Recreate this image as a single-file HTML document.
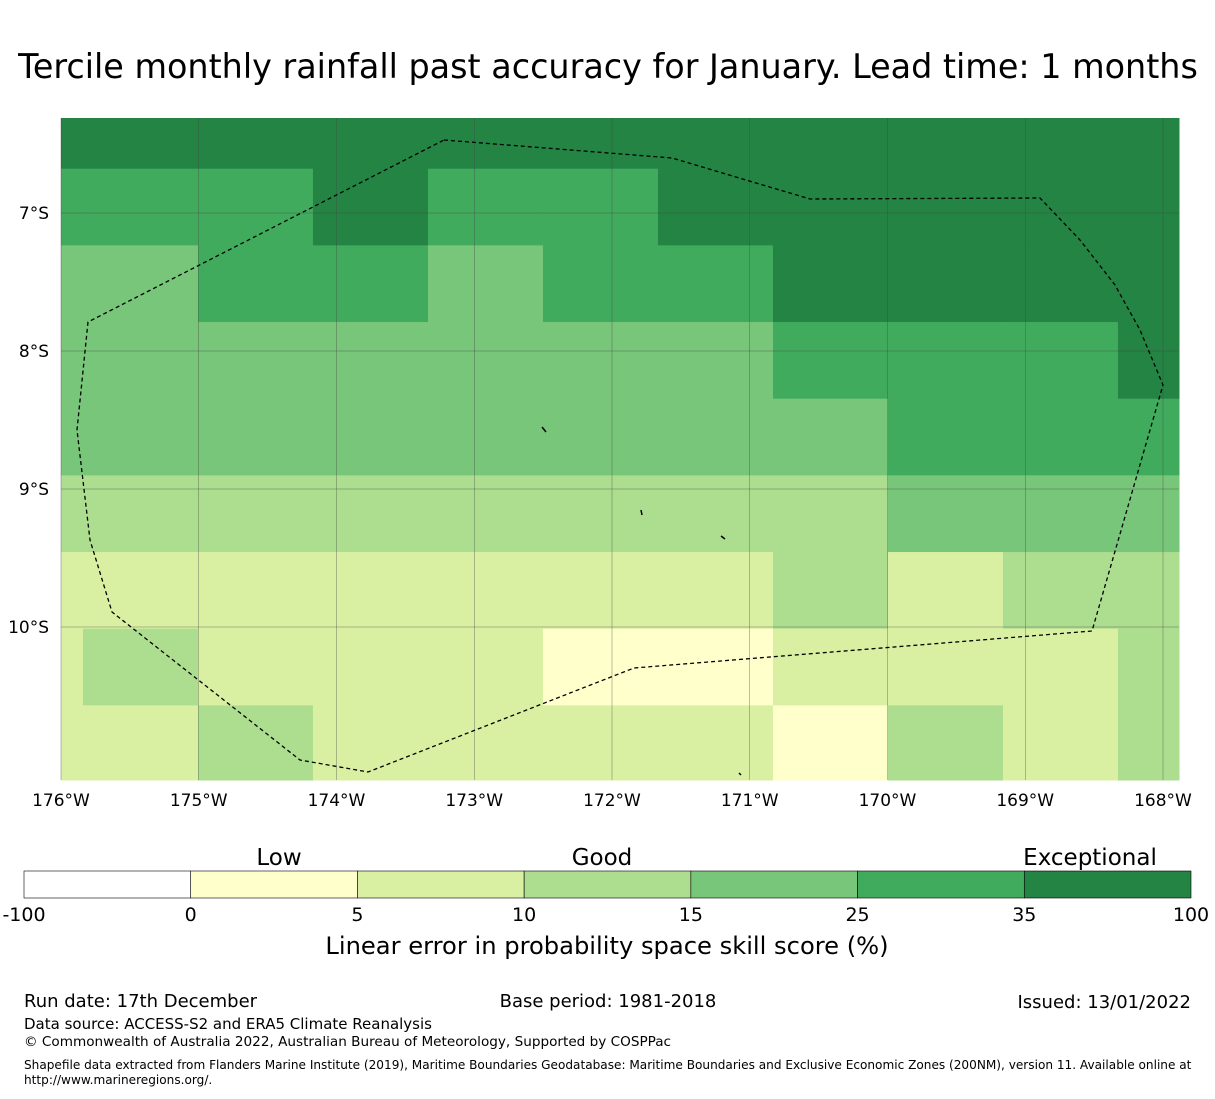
<!DOCTYPE html>
<html><head><meta charset="utf-8">
<style>
body{margin:0;background:#fff;font-family:"DejaVu Sans","Liberation Sans",sans-serif;}
svg text{font-family:"DejaVu Sans","Liberation Sans",sans-serif;}
</style></head>
<body>
<svg id="chart" width="1215" height="1095" xmlns="http://www.w3.org/2000/svg">
<text x="608" y="78" font-size="33.4" text-anchor="middle">Tercile monthly rainfall past accuracy for January. Lead time: 1 months</text>
<g id="cells"></g>
<g id="grid"></g>
<polygon fill="none" stroke="#000" stroke-width="1.3" stroke-dasharray="4,3" points="444,140 672,158 810,199 1040,198 1080,240 1115,285 1140,330 1163,385 1092,631 634,668 368,772 300,760 112,612 90,540 77,430 88,322"/>
<g stroke="#000" stroke-width="1.5">
<line x1="542" y1="427" x2="546" y2="432"/><line x1="641" y1="510" x2="642" y2="515"/><line x1="721" y1="536" x2="725" y2="539"/><line x1="739" y1="773" x2="741" y2="775"/>
</g>
<g id="axes" font-size="17"></g>
<g id="cbar"></g>
<text x="279" y="865" font-size="23" text-anchor="middle">Low</text>
<text x="602" y="865" font-size="23" text-anchor="middle">Good</text>
<text x="1090" y="865" font-size="23" text-anchor="middle">Exceptional</text>
<text x="607" y="954" font-size="24.2" text-anchor="middle">Linear error in probability space skill score (%)</text>
<text x="24" y="1007" font-size="18">Run date: 17th December</text>
<text x="608" y="1007" font-size="18" text-anchor="middle">Base period: 1981-2018</text>
<text x="1191" y="1008" font-size="18" text-anchor="end">Issued: 13/01/2022</text>
<text x="24" y="1029" font-size="15">Data source: ACCESS-S2 and ERA5 Climate Reanalysis</text>
<text x="24" y="1046" font-size="13.6">© Commonwealth of Australia 2022, Australian Bureau of Meteorology, Supported by COSPPac</text>
<text x="24" y="1069" font-size="12.1">Shapefile data extracted from Flanders Marine Institute (2019), Maritime Boundaries Geodatabase: Maritime Boundaries and Exclusive Economic Zones (200NM), version 11. Available online at</text>
<text x="24" y="1084" font-size="12.1">http://www.marineregions.org/.</text>
</svg>
<script>
const colors=["#ffffff","#ffffcc","#d9f0a3","#addd8e","#78c679","#41ab5d","#238443"];
const bounds=["-100","0","5","10","15","25","35","100"];
const lonTicks=[-176,-175,-174,-173,-172,-171,-170,-169,-168];
const latTicks=[-7,-8,-9,-10];
const grid=[
[6,6,6,6,6,6,6,6,6,6,6],
[5,5,5,6,5,5,6,6,6,6,6],
[4,4,5,5,4,5,5,6,6,6,6],
[4,4,4,4,4,4,4,5,5,5,6],
[4,4,4,4,4,4,4,4,5,5,5],
[3,3,3,3,3,3,3,3,4,4,4],
[2,2,2,2,2,2,2,3,2,3,3],
[2,3,2,2,2,1,1,2,2,2,3],
[2,2,3,2,2,2,2,1,3,2,3]];
const NS="http://www.w3.org/2000/svg";
const X0=61,X1=1179,Y0=118,Y1=780;
function xs(lon){return 61+(lon+176)*137.75;}
function ys(lat){return 213+(-7-lat)*138;}
const cellW=0.8348,cellH=0.5556;
function mk(t,a){const e=document.createElementNS(NS,t);for(const k in a)e.setAttribute(k,a[k]);return e;}
const cg=document.getElementById('cells');
const colStartLon=-176+(-32-61)/137.75, rowStartLat=-7-(92-213)/138;
grid.forEach((row,r)=>row.forEach((v,c)=>{
 let x=xs(colStartLon+c*cellW), x2=xs(colStartLon+(c+1)*cellW);
 let y=ys(rowStartLat-r*cellH), y2=ys(rowStartLat-(r+1)*cellH);
 x=Math.max(x,X0);x2=Math.min(x2,X1);y=Math.max(y,Y0);y2=Math.min(y2,Y1);
 const el=mk('rect',{x:x,y:y,width:x2-x+0.5,height:y2-y+0.5,fill:colors[v]});
 
 
 cg.appendChild(el);
}));
const gg=document.getElementById('grid'),ax=document.getElementById('axes');
lonTicks.forEach(l=>{
 const x=xs(l);
 const ln=mk('line',{x1:x,y1:Y0,x2:x,y2:Y1,stroke:"#444","stroke-width":0.5,"stroke-opacity":0.7});
 
 
 gg.appendChild(ln);
 const t=mk('text',{x:x,y:806,"text-anchor":"middle"});t.textContent=Math.abs(l)+"°W";
 
 
 ax.appendChild(t);
});
latTicks.forEach(l=>{
 const y=ys(l);
 const ln=mk('line',{x1:X0,y1:y,x2:X1,y2:y,stroke:"#444","stroke-width":0.5,"stroke-opacity":0.7});
 
 
 gg.appendChild(ln);
 const t=mk('text',{x:49,y:y+6,"text-anchor":"end"});t.textContent=Math.abs(l)+"°S";
 
 
 ax.appendChild(t);
});
const cb=document.getElementById('cbar');const w=(1191-24)/7;
colors.forEach((c,i)=>{
 const r=mk('rect',{x:24+i*w,y:871,width:w,height:27,fill:c,stroke:"#000","stroke-width":0.6});
 
 
 cb.appendChild(r);
});
bounds.forEach((b,i)=>{
 const t=mk('text',{x:24+i*w,y:921,"font-size":19,"text-anchor":"middle"});t.textContent=b;
 
 
 cb.appendChild(t);
});
</script>
</body></html>
